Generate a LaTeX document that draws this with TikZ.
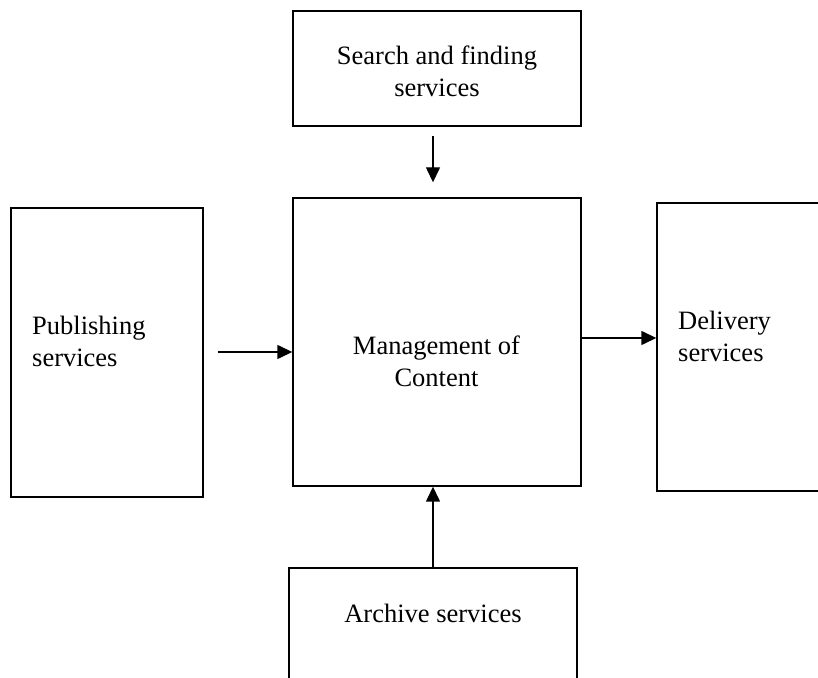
\documentclass[tikz,border=0pt]{standalone}
\usepackage{fontspec}
\setmainfont{Liberation Serif}
\usetikzlibrary{arrows.meta}
\begin{document}
\begin{tikzpicture}[x=1pt,y=1pt,
  box/.style={draw, line width=1.4pt, inner sep=0pt, minimum width=#1},
  lbl/.style={inner sep=0pt, font=\fontsize{26.5pt}{32pt}\selectfont},
  arr/.style={line width=1.4pt, -{Triangle[length=15pt,width=14pt]}}]
\useasboundingbox (0,0) rectangle (818,677);
\clip (0,0) rectangle (818,677);
% boxes
\node[box=288pt, minimum height=115pt] (search) at (437,608.5) {};
\node[box=288pt, minimum height=288pt] (mgmt) at (437,335) {};
\node[box=192pt, minimum height=289pt] (pub) at (107,324.5) {};
\node[box=192pt, minimum height=288pt] (deliv) at (753,330) {};
\node[box=288pt, minimum height=120pt] (arch) at (433,49) {};
% labels (base anchor sits on the last line)
\node[lbl, anchor=base, align=center] (searchtxt) at (437,580) {Search and finding\\services};
\node[lbl, anchor=base, align=center] (mgmttxt) at (436.5,290) {Management of\\Content};
\node[lbl, anchor=base west, align=left] (pubtxt) at (32,310) {Publishing\\services};
\node[lbl, anchor=base west, align=left] (delivtxt) at (678,315) {Delivery\\services};
\node[lbl, anchor=base] (archtxt) at (433,55) {Archive services};
% connectors
\draw[arr, shorten <=9pt, shorten >=15pt] (arch.north |- search.south) -- (arch.north |- mgmt.north);
\draw[arr, shorten <=14pt] ([yshift=0.5pt]pub.east) -- ([yshift=0.5pt]pub.east -| mgmt.west);
\draw[arr] ([yshift=4pt]mgmt.east) -- ([yshift=4pt]mgmt.east -| deliv.west);
\draw[arr] (arch.north) -- (arch.north |- mgmt.south);
\end{tikzpicture}
\end{document}
